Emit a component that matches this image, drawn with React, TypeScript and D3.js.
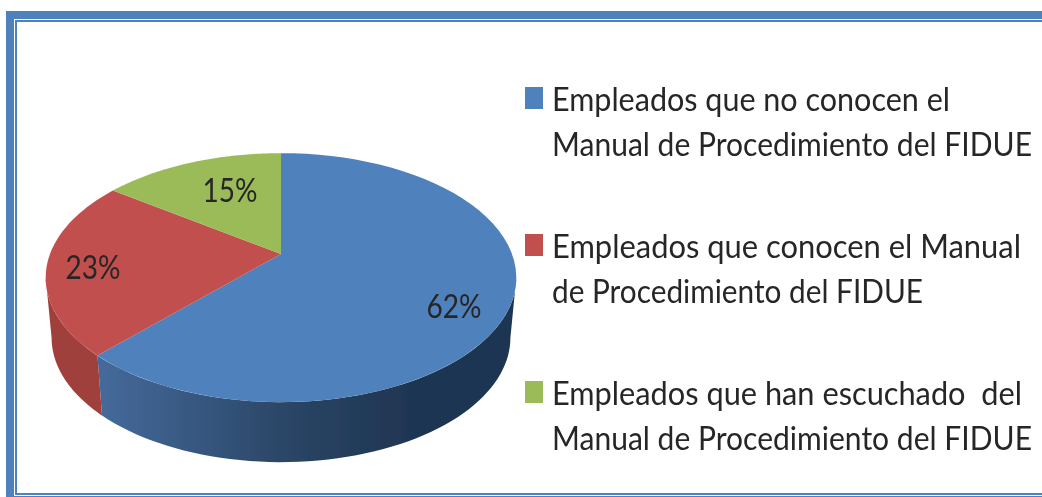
import React from "react";
import * as d3 from "d3";

const categories = [
  ["Empleados que no conocen el", "Manual de Procedimiento del FIDUE"],
  ["Empleados que conocen el Manual", "de Procedimiento del FIDUE"],
  ["Empleados que han escuchado  del", "Manual de Procedimiento del FIDUE"],
];
const values = [62, 23, 15];
const colors = ["#4f81bd", "#c0504d", "#9bbb59"];
const legendY = [98, 245, 392];
const legendWidths = [[398, 480], [469, 371], [470, 480]];

const W = 1042, H = 497;
const cx = 281, cy = 254, A = 231, B = 120, k = 0.19, depth = 60, shrink = 0.975;

const slices = d3.pie<number>().sort(null)(values);
const steps = d3.range(0, 1.0001, 1 / 60);

const project = (t: number, wall = false): [number, number] => {
  const u = Math.sin(t), v = -Math.cos(t), d = 1 - k * v;
  const s = wall ? shrink : 1;
  return [cx + (A * s * u) / d, cy + (B * v) / d + (wall ? depth : 0)];
};
const line = d3.line();
const face = (a0: number, a1: number) => {
  const arc = steps.map((f) => project(a0 + (a1 - a0) * f));
  return line([[cx, cy], ...arc])! + "Z";
};
const wallPath = (a0: number, a1: number) => {
  const top = steps.map((f) => project(a0 + (a1 - a0) * f));
  const bot = steps.map((f) => project(a1 + (a0 - a1) * f, true));
  return line([...top, ...bot])! + "Z";
};
// Angles where the projected rim reaches its horizontal extremes.
const rimRight = Math.PI - Math.acos(k);
const rimLeft = Math.PI + Math.acos(k);
const labelPos: [number, number][] = [[454, 305], [93, 266], [230, 189]];

export default function App() {
  const font = "Lato, 'Open Sans', sans-serif";
  return (
    <svg width={W} height={H} style={{ position: "absolute", left: 0, top: 0 }}>
      <defs>
        <linearGradient id="blueWall" gradientUnits="userSpaceOnUse" x1={104} x2={516} y1={0} y2={0}>
          <stop offset="0" stopColor="#44699a" />
          <stop offset="0.45" stopColor="#2a4565" />
          <stop offset="0.75" stopColor="#1f3552" />
          <stop offset="1" stopColor="#1f3552" />
        </linearGradient>
        <filter id="soft" x="-5%" y="-5%" width="110%" height="110%">
          <feGaussianBlur stdDeviation="0.7" />
        </filter>
      </defs>
      <rect width={W} height={H} fill="#fff" />
      <g fill="#4f81bd">
        <rect x={6} y={11} width={8} height={486} />
        <rect x={6} y={11} width={1036} height={8} />
        <rect x={15} y={20} width={2} height={475} />
        <rect x={15} y={20} width={1027} height={2} />
        <rect x={15} y={493} width={1027} height={2} />
        <rect x={14} y={496} width={1028} height={1} />
      </g>
      <g filter="url(#soft)">
        <path d={wallPath(rimRight, slices[0].endAngle)} fill="url(#blueWall)" />
        <path d={wallPath(slices[0].endAngle, rimLeft)} fill="#a0413e" />
        {slices.map((s, i) => (
          <path key={i} d={face(s.startAngle, s.endAngle)} fill={colors[i]} />
        ))}
      </g>
      <g filter="url(#soft)" fontFamily={font} fontSize={32} fill="#262626">
        {slices.map((s, i) => (
          <text key={i} x={labelPos[i][0]} y={labelPos[i][1]} textAnchor="middle" dominantBaseline="central" textLength={55} lengthAdjust="spacingAndGlyphs">
            {values[i]}%
          </text>
        ))}
        {categories.map((lines, i) => (
          <g key={i}>
            <rect x={525} y={legendY[i] - 11} width={18} height={22} fill={colors[i]} />
            {lines.map((t, j) => (
              <text key={j} x={552} y={legendY[i] + j * 45} dominantBaseline="central" xmlSpace="preserve" textLength={legendWidths[i][j]} lengthAdjust="spacingAndGlyphs">
                {t}
              </text>
            ))}
          </g>
        ))}
      </g>
    </svg>
  );
}
